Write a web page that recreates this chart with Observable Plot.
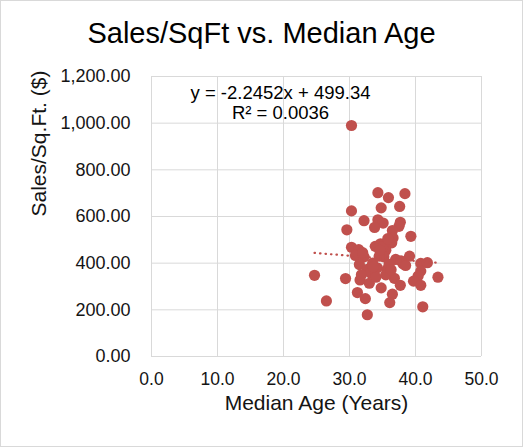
<!DOCTYPE html>
<html>
<head>
<meta charset="utf-8">
<script src="https://cdn.jsdelivr.net/npm/d3@7"></script>
<script src="https://cdn.jsdelivr.net/npm/@observablehq/plot@0.6"></script>
<style>
  body { margin: 0; background: #fff; }
  #wrap {
    width: 523px; height: 447px; box-sizing: border-box;
    border: 1px solid #d9d9d9; font-family: "Liberation Sans", Arial, sans-serif;
    overflow: hidden;
  }
  #title {
    height: 59px; line-height: 64px; text-align: center;
    font-size: 29px; color: #000;
  }
</style>
</head>
<body>
<div id="wrap">
  <div id="title">Sales/SqFt vs. Median Age</div>
  <div id="chart"></div>
</div>
<script>
// median age (years) per store
const ages = [
  34.3, 35.9, 38.4, 34.8, 37.6, 30.3, 32.2, 34.3, 35.1, 33.8,
  37.7, 37.5, 29.6, 36.5, 36.6, 39.3, 36.4, 30.3, 31.4, 33.9,
  34.7, 35.5, 30.9, 32.2, 35.2, 37.0, 39.1, 38.1, 40.8, 41.8,
  31.5, 24.7, 29.4, 32.7, 34.2, 35.7, 40.8, 40.4, 43.4, 31.6,
  33.0, 36.8, 37.7, 39.7, 40.8, 34.8, 31.2, 32.4, 36.5, 36.1,
  26.5, 41.1, 32.7, 30.3, 33.5, 34.5, 35.5, 36.0, 33.2, 35.0,
  34.0, 37.8, 36.3, 32.0, 35.8, 34.6, 33.6, 38.5, 31.8
]
// sales per sq. ft. ($)
const sales = [
  702, 681, 698, 637, 643, 624, 582, 586, 572, 553,
  575, 558, 543, 540, 508, 515, 487, 468, 458, 472,
  483, 455, 433, 427, 427, 416, 430, 397, 399, 402,
  394, 348, 334, 373, 380, 373, 366, 345, 340, 328,
  314, 335, 305, 323, 305, 294, 274, 248, 267, 231,
  238, 213, 179, 990, 400, 430, 350, 395, 358, 470,
  340, 410, 372, 445, 505, 455, 385, 390, 350
]
const xTicks = [0, 10, 20, 30, 40, 50]
const yTicks = [0, 200, 400, 600, 800, 1000, 1200]

// excel trendline
const slope = -2.2452
const intercept = 499.34
const eqLabel = "y = -2.2452x + 499.34"
const r2Label = "R² = 0.0036"

const data = ages.map((a, i) => ({age: a, sales: sales[i]}))
const ext = d3.extent(ages)
const trend = ext.map(a => ({age: a, sales: slope * a + intercept}))

const red = "#c0504d"
const ink = "#141414"

var chart = Plot.plot({
  width: 521,
  height: 386,
  marginLeft: 150,
  marginRight: 41,
  marginTop: 16,
  marginBottom: 90,
  style: {
    fontFamily: "Liberation Sans, Arial, sans-serif",
    fontSize: 16,
    color: ink,
    background: "#fff"
  },
  x: {domain: [0, 50], label: null},
  y: {domain: [0, 1200], label: null},
  marks: [
    Plot.gridX(xTicks, {stroke: "#d9d9d9", strokeOpacity: 1}),
    Plot.gridY(yTicks, {stroke: "#d9d9d9", strokeOpacity: 1}),
    Plot.axisX(xTicks, {tickSize: 0, tickPadding: 16, tickFormat: d3.format(".1f"), label: null, fontSize: 17.5, fill: ink}),
    Plot.axisY(yTicks, {tickSize: 0, tickPadding: 21, tickFormat: d3.format(",.2f"), label: null, fontSize: 18, fill: ink}),
    Plot.dot(data, {x: "age", y: "sales", r: 5.6, fill: red, fillOpacity: 1}),
    Plot.line(trend, {
      x: "age", y: "sales", stroke: red, strokeWidth: 2.2,
      strokeDasharray: "0.5 5", strokeLinecap: "round"
    }),
    Plot.text([eqLabel], {frameAnchor: "top-left", lineAnchor: "middle", dx: 129, dy: 17, fontSize: 18.5, fill: "#000", textAnchor: "middle"}),
    Plot.text([r2Label], {frameAnchor: "top-left", lineAnchor: "middle", dx: 129, dy: 37, fontSize: 18.5, fill: "#000", textAnchor: "middle"}),
    Plot.text(["Median Age (Years)"], {frameAnchor: "bottom", dy: 53, fontSize: 21, fill: ink}),
    Plot.text(["Sales/Sq.Ft. ($)"], {frameAnchor: "left", dx: -112, rotate: -90, fontSize: 21, fill: ink})
  ]
})
d3.select('#chart').append(() => chart)
</script>
</body>
</html>
